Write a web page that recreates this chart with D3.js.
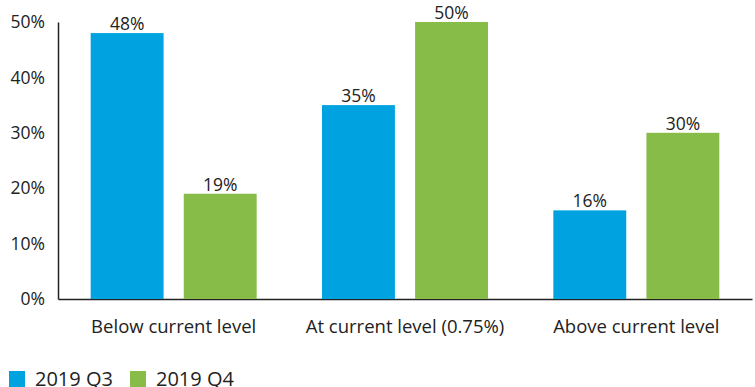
<!DOCTYPE html>
<html>
<head>
<meta charset="utf-8">
<script src="https://cdn.jsdelivr.net/npm/d3@7"></script>
<style>
  body { margin: 0; background: #fff; }
  text { font-family: "Open Sans", sans-serif; fill: #222; }
</style>
</head>
<body>
<div id="chart"></div>
<script>
// Chart data
var categories = ["Below current level", "At current level (0.75%)", "Above current level"];
var seriesNames = ["2019 Q3", "2019 Q4"];
var q3Values = [48, 35, 16];
var q4Values = [19, 50, 30];
var yTicks = [0, 10, 20, 30, 40, 50];
var colors = ["#00A3E0", "#86BC47"];

var margin = { top: 22, right: 3, bottom: 88, left: 58 },
    width = 755 - margin.left - margin.right,
    height = 387 - margin.top - margin.bottom;

var svg = d3.select("#chart").append("svg")
    .attr("width", 755)
    .attr("height", 387)
    .append("g")
    .attr("transform", "translate(" + margin.left + "," + margin.top + ")");

var x0 = d3.scaleBand().domain(categories).range([0, width]).padding(0);
var x1 = d3.scaleBand().domain(seriesNames)
    .range([(x0.bandwidth() - 166) / 2, (x0.bandwidth() + 166) / 2])
    .paddingInner(18 / 83).paddingOuter(0);
var y = d3.scaleLinear().domain([0, 50]).range([height, 0]);

// Axes
var yAxis = svg.append("g")
    .call(d3.axisLeft(y).tickValues(yTicks).tickSize(0).tickPadding(13)
        .tickFormat(function(d) { return d + "%"; }));
yAxis.select(".domain").attr("stroke", "#222").attr("stroke-width", 1.5);
yAxis.selectAll("text").style("font-size", "17.5px").style("font-family", "Open Sans, sans-serif").attr("fill", "#222");

var xAxis = svg.append("g")
    .attr("transform", "translate(0," + height + ")")
    .call(d3.axisBottom(x0).tickSize(0).tickPadding(21));
xAxis.select(".domain").attr("stroke", "#222").attr("stroke-width", 1.5);
xAxis.selectAll("text").style("font-size", "18.5px").style("font-family", "Open Sans, sans-serif").attr("fill", "#222");

// Bars
var rows = categories.map(function(c, i) {
    return { cat: c, vals: [q3Values[i], q4Values[i]] };
});

var groups = svg.selectAll(".group").data(rows).enter().append("g")
    .attr("transform", function(d) { return "translate(" + x0(d.cat) + ",0)"; });

groups.selectAll("rect").data(function(d) {
    return d.vals.map(function(v, j) { return { name: seriesNames[j], value: v, idx: j }; });
}).enter().append("rect")
    .attr("x", function(d) { return x1(d.name); })
    .attr("y", function(d) { return y(d.value); })
    .attr("width", x1.bandwidth())
    .attr("height", function(d) { return height - y(d.value); })
    .attr("fill", function(d) { return colors[d.idx]; });

groups.selectAll(".lbl").data(function(d) {
    return d.vals.map(function(v, j) { return { name: seriesNames[j], value: v }; });
}).enter().append("text")
    .attr("class", "lbl")
    .attr("x", function(d) { return x1(d.name) + x1.bandwidth() / 2; })
    .attr("y", function(d) { return y(d.value) - 3; })
    .attr("text-anchor", "middle")
    .style("font-size", "17.5px")
    .text(function(d) { return d.value + "%"; });

// Legend (sits at the bottom edge, as in the original)
var legend = d3.select("svg").append("g").attr("transform", "translate(9,371)");
var legX = [0, 121];
seriesNames.forEach(function(name, i) {
    legend.append("rect").attr("x", legX[i]).attr("y", 0).attr("width", 16).attr("height", 16).attr("fill", colors[i]);
    legend.append("text").attr("x", legX[i] + 26).attr("y", 15).style("font-size", "20px").text(name);
});
</script>
</body>
</html>
